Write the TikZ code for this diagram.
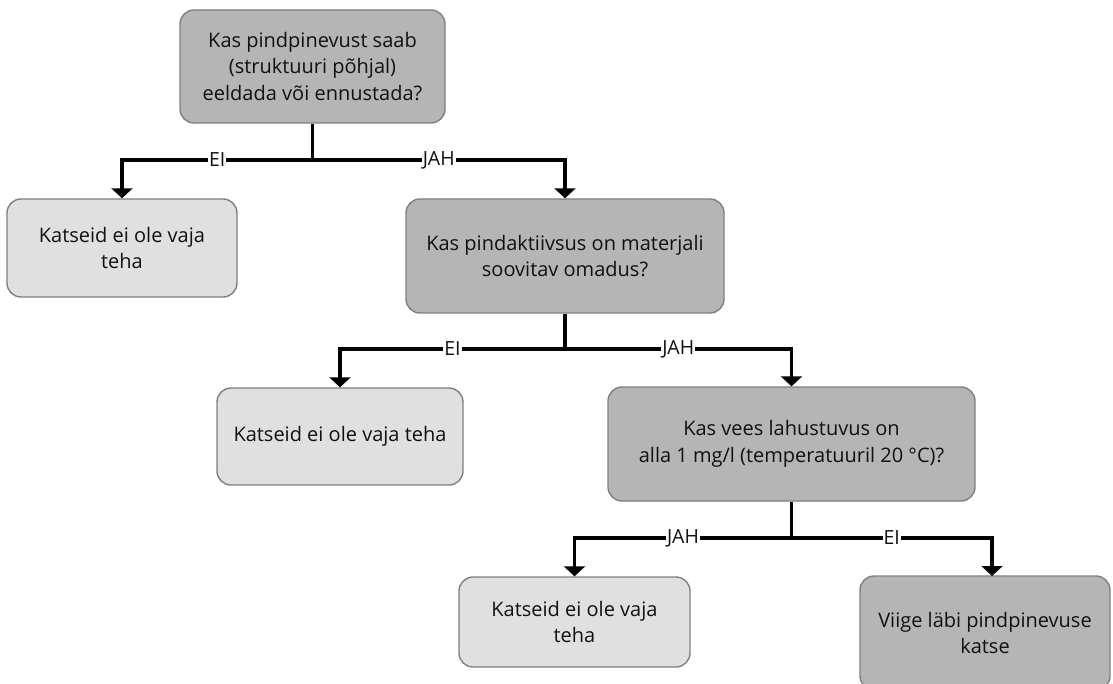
\documentclass[tikz,border=0pt]{standalone}
\usepackage{fontspec}
\setmainfont{Open Sans}
\usetikzlibrary{arrows.meta}
\definecolor{darkfill}{HTML}{B5B5B5}
\definecolor{lightfill}{HTML}{E0E0E0}
\definecolor{edge}{HTML}{808080}
\definecolor{ink}{HTML}{111111}
\tikzset{
  box/.style={draw=edge, line width=1.4pt, rounded corners=14pt, align=center,
    text=ink, font=\fontsize{20}{26.5}\selectfont, inner sep=4pt},
  qbox/.style={box, fill=darkfill},
  abox/.style={box, fill=lightfill},
  conn/.style={line width=3.2pt, -{Triangle[width=21pt,length=10pt]}},
  stem/.style={line width=3.2pt},
  lab/.style={fill=white, inner sep=1pt, font=\fontsize{19.5}{22}\selectfont, text=ink}
}
\begin{document}
\begin{tikzpicture}[x=1pt,y=-1pt]
\clip (0,0) rectangle (1113,684);
\fill[white] (0,0) rectangle (1113,684);

\node[qbox, minimum width=265pt, minimum height=113pt] (A) at (312.5,66.5)
  {Kas pindpinevust saab\\(struktuuri põhjal)\\eeldada või ennustada?};
\node[abox, minimum width=230pt, minimum height=98pt] (B) at (122,248)
  {Katseid ei ole vaja\\teha};
\node[qbox, minimum width=318pt, minimum height=114pt] (C) at (565,256)
  {Kas pindaktiivsus on materjali\\soovitav omadus?};
\node[abox, minimum width=246pt, minimum height=97pt] (D) at (340,436.5)
  {Katseid ei ole vaja teha};
\node[qbox, minimum width=367pt, minimum height=114pt] (E) at (791.5,444)
  {Kas vees lahustuvus on\\alla 1 mg/l (temperatuuril 20 °C)?};
\node[abox, minimum width=231pt, minimum height=90pt] (F) at (574.5,622)
  {Katseid ei ole vaja\\teha};
\node[qbox, minimum width=250pt, minimum height=114pt] (G) at (985,633)
  {Viige läbi pindpinevuse\\katse};

\coordinate (j1) at (312.5,160);
\coordinate (j2) at (565,349);
\coordinate (j3) at (791.5,538);
\coordinate (gin) at (992,576);

\draw[stem] (A.south) -- (j1);
\draw[conn] (j1) -| node[lab, pos=0.25] {EI} (B.north);
\draw[conn] (j1) -| node[lab, pos=0.25] {JAH} (C.north);

\draw[stem] (C.south) -- (j2);
\draw[conn] (j2) -| node[lab, pos=0.25] {EI} (D.north);
\draw[conn] (j2) -| node[lab, pos=0.25] {JAH} (E.north);

\draw[stem] (E.south) -- (j3);
\draw[conn] (j3) -| node[lab, pos=0.25] {JAH} (F.north);
\draw[conn] (j3) -| node[lab, pos=0.25] {EI} (gin);
\end{tikzpicture}
\end{document}
